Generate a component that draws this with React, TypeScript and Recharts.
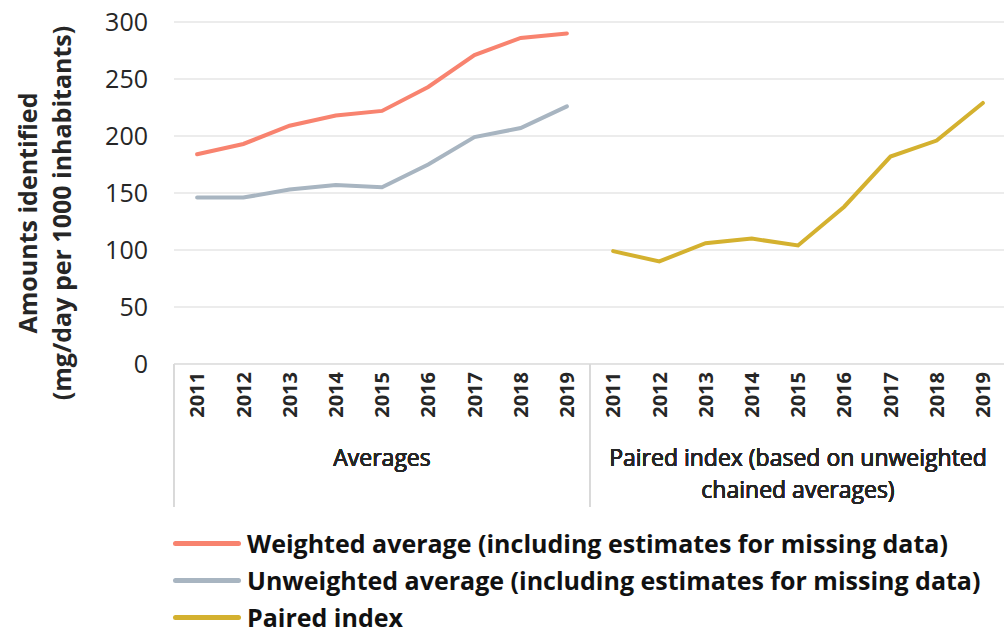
import { LineChart, Line, XAxis, YAxis, CartesianGrid, Legend } from "recharts";

const years = ["2011", "2012", "2013", "2014", "2015", "2016", "2017", "2018", "2019"];
const weighted = [184, 193, 209, 218, 222, 243, 271, 286, 290];
const unweighted = [146, 146, 153, 157, 155, 175, 199, 207, 226];
const paired = [99, 90, 106, 110, 104, 138, 182, 196, 229];
const groups = ["Averages", "Paired index (based on unweighted chained averages)"];
const yTicks = [0, 50, 100, 150, 200, 250, 300];
const seriesNames = [
  "Weighted average (including estimates for missing data)",
  "Unweighted average (including estimates for missing data)",
  "Paired index",
];

const FONT = "'Open Sans', Lato, sans-serif";
const TEXT = "#262626";
const GRID = "#d9d9d9";

const data = [
  ...years.map((y, i) => ({
    key: "a" + y,
    group: groups[0],
    weighted: weighted[i],
    unweighted: unweighted[i],
    paired: null,
  })),
  ...years.map((y, i) => ({
    key: "p" + y,
    group: groups[1],
    weighted: null,
    unweighted: null,
    paired: paired[i],
  })),
];

// eslint-disable-next-line @typescript-eslint/no-explicit-any
function YearTick(props: any) {
  const { x, y, payload } = props;
  return (
    <text
      x={x}
      y={y}
      transform={`rotate(-90 ${x} ${y})`}
      textAnchor="end"
      dy="0.36em"
      fontFamily={FONT}
      fontSize={20}
      fontWeight={700}
      fill={TEXT}
    >
      {String(payload.value).slice(1)}
    </text>
  );
}

// eslint-disable-next-line @typescript-eslint/no-explicit-any
function GroupTick(props: any) {
  const { x, y, payload } = props;
  const half = payload.offset || 207;
  const lines =
    payload.value === groups[0]
      ? ["Averages"]
      : ["Paired index (based on unweighted", "chained averages)"];
  return (
    <g>
      <line x1={x - half} x2={x - half} y1={y - 80} y2={y + 63} stroke={GRID} strokeWidth={1} />
      <text x={x} y={y} textAnchor="middle" fontFamily={FONT} fontSize={23} fill={TEXT}>
        {lines.map((l, i) => (
          <tspan key={i} x={x} dy={i === 0 ? 22 : 32}>
            {l}
          </tspan>
        ))}
      </text>
    </g>
  );
}

function YLabel() {
  const cy = 213;
  return (
    <g fontFamily={FONT} fontSize={25} fontWeight={700} fill={TEXT} textAnchor="middle">
      <text x={28} y={cy} transform={`rotate(-90 28 ${cy})`} dy="0.35em">
        Amounts identified
      </text>
      <text x={62} y={cy} transform={`rotate(-90 62 ${cy})`} dy="0.35em">
        (mg/day per 1000 inhabitants)
      </text>
    </g>
  );
}

// eslint-disable-next-line @typescript-eslint/no-explicit-any
function LegendContent(props: any) {
  const items = [...(props.payload || [])].sort(
    // eslint-disable-next-line @typescript-eslint/no-explicit-any
    (a: any, b: any) => seriesNames.indexOf(a.value) - seriesNames.indexOf(b.value)
  );
  return (
    <div style={{ fontFamily: FONT }}>
      {/* eslint-disable-next-line @typescript-eslint/no-explicit-any */}
      {items.map((p: any) => (
        <div key={p.value} style={{ display: "flex", alignItems: "center", height: 37 }}>
          <div style={{ width: 68, height: 5, borderRadius: 3, background: p.color, marginRight: 6, flexShrink: 0 }} />
          <span style={{ fontSize: 25, lineHeight: 1, fontWeight: 700, color: "#111", whiteSpace: "nowrap" }}>
            {p.value}
          </span>
        </div>
      ))}
    </div>
  );
}

export default function App() {
  return (
    <div style={{ position: "absolute", left: 0, top: 0, width: 1004, height: 631, overflow: "hidden", background: "#fff" }}>
      <LineChart width={1008} height={631} data={data} margin={{ top: 22, right: 2, bottom: 121, left: 114 }}>
        <CartesianGrid vertical={false} stroke={GRID} xAxisId="a" />
        <XAxis
          xAxisId="a"
          dataKey="key"
          scale="band"
          interval={0}
          tickSize={0}
          tickMargin={8}
          height={80}
          stroke={GRID}
          tick={<YearTick />}
        />
        <XAxis
          xAxisId="b"
          dataKey="group"
          scale="band"
          allowDuplicatedCategory={false}
          axisLine={false}
          tickLine={false}
          tickSize={0}
          tickMargin={0}
          height={66}
          interval={0}
          tick={<GroupTick />}
        />
        <YAxis
          width={60}
          domain={[0, 300]}
          ticks={yTicks}
          interval={0}
          axisLine={false}
          tickLine={false}
          tickSize={0}
          tickMargin={26}
          tick={{ fontFamily: FONT, fontSize: 25, fill: TEXT }}
          label={{ content: <YLabel /> }}
        />
        <Line
          xAxisId="a"
          dataKey="weighted"
          name={seriesNames[0]}
          stroke="#F8836F"
          strokeWidth={4}
          strokeLinecap="round"
          dot={false}
          activeDot={false}
          isAnimationActive={false}
        />
        <Line
          xAxisId="a"
          dataKey="unweighted"
          name={seriesNames[1]}
          stroke="#A8B5C1"
          strokeWidth={4}
          strokeLinecap="round"
          dot={false}
          activeDot={false}
          isAnimationActive={false}
        />
        <Line
          xAxisId="a"
          dataKey="paired"
          name={seriesNames[2]}
          stroke="#D4B12F"
          strokeWidth={4}
          strokeLinecap="round"
          dot={false}
          activeDot={false}
          isAnimationActive={false}
        />
        <Legend
          layout="vertical"
          align="center"
          verticalAlign="middle"
          wrapperStyle={{ left: 173, top: 525, width: 825 }}
          content={<LegendContent />}
        />
      </LineChart>
    </div>
  );
}
